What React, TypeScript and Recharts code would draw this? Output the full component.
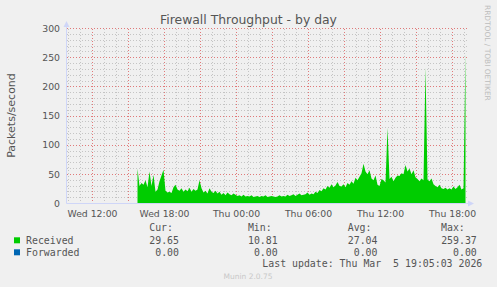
import React from 'react';
import { ComposedChart, Area, Line, XAxis, YAxis, ReferenceLine } from 'recharts';

// ---- data ----
const RECEIVED_COLOR = '#00CC00';
const FORWARDED_COLOR = '#0066B3';

// Received packets/second, one sample per 10 minutes from Wed 15:45 onward
const received = [
  60, 30, 35, 32, 40, 28, 55, 30, 49, 20,
  24, 38, 48, 58, 22, 19, 20, 18, 28, 32,
  24, 22, 26, 20, 24, 21, 27, 20, 25, 22,
  24, 40, 26, 19, 22, 17, 26, 20, 18, 22,
  17, 20, 15, 18, 14, 19, 16, 14, 17, 15,
  13, 14, 12, 15, 12, 13, 12, 14, 11, 12,
  13, 11, 13, 12, 14, 11, 12, 13, 12, 11,
  12, 14, 12, 13, 12, 15, 13, 14, 16, 13,
  15, 17, 14, 15, 16, 19, 15, 17, 16, 20,
  18, 23, 21, 26, 24, 30, 27, 33, 28, 31,
  37, 30, 29, 33, 28, 35, 32, 38, 34, 44,
  40, 46, 52, 68, 55, 50, 57, 43, 40, 48,
  32, 30, 42, 40, 36, 130, 42, 46, 38, 44,
  48, 47, 52, 50, 66, 55, 60, 50, 57, 45,
  42, 38, 43, 40, 233, 41, 38, 43, 33, 30,
  28, 32, 26, 25, 27, 24, 26, 24, 29, 25,
  28, 32, 24, 26, 259.37,
];
// Forwarded is 0.00 for every sample (cur/min/avg/max all 0.00)
const forwarded = received.map(() => 0);
// sample timestamps in hours since Wed 00:00
const sampleHours = received.map((_, i) => 15.75 + i / 6);

const xDomain = [9.8333, 43.1667];
const xTickHours = [12, 18, 24, 30, 36, 42];
const xTickLabels = ['Wed 12:00', 'Wed 18:00', 'Thu 00:00', 'Thu 06:00', 'Thu 12:00', 'Thu 18:00'];
const majorHours = [12, 15, 18, 21, 24, 27, 30, 33, 36, 39, 42];
const minorHours = [10, 11, 13, 14, 16, 17, 19, 20, 22, 23, 25, 26, 28, 29, 31, 32, 34, 35, 37, 38, 40, 41, 43];
const yTicks = [0, 50, 100, 150, 200, 250, 300];
const majorY = [50, 100, 150, 200, 250, 300];
const minorY = [10, 20, 30, 40, 60, 70, 80, 90, 110, 120, 130, 140, 160, 170, 180, 190, 210, 220, 230, 240, 260, 270, 280, 290];

const legendNames = ['Received', 'Forwarded'];
const legendColors = [RECEIVED_COLOR, FORWARDED_COLOR];
const curValues = ['29.65', '0.00'];
const minValues = ['10.81', '0.00'];
const avgValues = ['27.04', '0.00'];
const maxValues = ['259.37', '0.00'];

const TITLE = 'Firewall Throughput - by day';
const Y_LABEL = 'Packets/second';
const LAST_UPDATE = 'Last update: Thu Mar  5 19:05:03 2026';
const VERSION = 'Munin 2.0.75';
const SIDE = 'RRDTOOL / TOBI OETIKER';

const data = sampleHours.map((h, i) => ({ h, received: received[i], forwarded: forwarded[i] }));

const FONT = '"DejaVu Sans", sans-serif';
const MONO = '"DejaVu Sans Mono", monospace';
const TEXT = '#555555';
const AXIS = '#CFD6F8';
const MINOR = '#c4c4c4';
const MAJOR = '#e07a7a';

export default function App() {
  return (
    <div style={{ position: 'absolute', left: 0, top: 0, width: 497, height: 287, background: '#F0F0F0' }}>
      <ComposedChart
        width={497}
        height={287}
        data={data}
        margin={{ top: 28.5, right: 30.5, bottom: 63.5, left: 0 }}
        style={{ position: 'absolute', left: 0, top: 0 }}
      >
        <XAxis
          type="number"
          dataKey="h"
          domain={xDomain}
          allowDataOverflow
          ticks={xTickHours}
          interval={0}
          tickFormatter={(v) => xTickLabels[xTickHours.indexOf(v)]}
          height={20}
          axisLine={{ stroke: AXIS }}
          tickLine={false}
          tickSize={2}
          tickMargin={4.6}
          tick={{ fontSize: 9.3, fill: TEXT, fontFamily: FONT }}
        />
        <YAxis
          type="number"
          domain={[0, 300]}
          ticks={yTicks}
          interval={0}
          width={66.5}
          axisLine={{ stroke: AXIS }}
          tickLine={false}
          tickSize={2}
          tickMargin={4.5}
          tick={{ fontSize: 9.3, fill: TEXT, fontFamily: FONT }}
        />
        {minorHours.map((h) => (
          <ReferenceLine key={'mx' + h} x={h} zIndex={-50} stroke={MINOR} strokeWidth={1} strokeDasharray="1 2" shapeRendering="crispEdges" />
        ))}
        {minorY.map((v) => (
          <ReferenceLine key={'my' + v} y={v} zIndex={-50} stroke={MINOR} strokeWidth={1} strokeDasharray="1 2" shapeRendering="crispEdges" />
        ))}
        {majorHours.map((h) => (
          <ReferenceLine key={'Mx' + h} x={h} zIndex={-40} stroke={MAJOR} strokeWidth={1} strokeDasharray="1 2" shapeRendering="crispEdges" />
        ))}
        {majorY.map((v) => (
          <ReferenceLine key={'My' + v} y={v} zIndex={-40} stroke={MAJOR} strokeWidth={1} strokeDasharray="1 2" shapeRendering="crispEdges" />
        ))}
        <Area
          type="linear"
          dataKey="received"
          stroke="none"
          fill={RECEIVED_COLOR}
          fillOpacity={1}
          isAnimationActive={false}
          dot={false}
          activeDot={false}
        />
        <Line
          type="linear"
          dataKey="forwarded"
          stroke={FORWARDED_COLOR}
          strokeWidth={1}
          dot={false}
          activeDot={false}
          isAnimationActive={false}
        />
      </ComposedChart>
      <svg
        width={497}
        height={287}
        style={{ position: 'absolute', left: 0, top: 0, pointerEvents: 'none' }}
      >
        {/* axis arrows */}
        <line x1={66.5} y1={28.5} x2={66.5} y2={24} stroke={AXIS} />
        <polygon points="63.5,27 69.5,27 66.5,21" fill={AXIS} />
        <line x1={466.5} y1={203.5} x2={469} y2={203.5} stroke={AXIS} />
        <polygon points="468,200.5 468,206.5 474,203.5" fill={AXIS} />

        <text x={248.5} y={24} textAnchor="middle" fontFamily={FONT} fontSize={12.4} fill={TEXT}>
          {TITLE}
        </text>
        <text
          transform="translate(15,115.5) rotate(-90)"
          textAnchor="middle"
          fontFamily={FONT}
          fontSize={11}
          fill={TEXT}
        >
          {Y_LABEL}
        </text>
        <text
          transform="translate(485,5) rotate(90)"
          textAnchor="start"
          fontFamily={FONT}
          fontSize={7.45}
          fill="#bdbdbd"
        >
          {SIDE}
        </text>

        <g fontFamily={MONO} fontSize={9.9} fill={TEXT}>
          <text x={149.2} y={231}>Cur:</text>
          <text x={247.9} y={231}>Min:</text>
          <text x={347.7} y={231}>Avg:</text>
          <text x={441} y={231}>Max:</text>
          {legendNames.map((name, i) => {
            const y = 243.5 + i * 12;
            return (
              <g key={name}>
                <rect x={14} y={y - 6.2} width={6} height={6} fill={legendColors[i]} />
                <text x={26} y={y}>{name}</text>
                <text x={179} y={y} textAnchor="end">{curValues[i]}</text>
                <text x={277.7} y={y} textAnchor="end">{minValues[i]}</text>
                <text x={377.5} y={y} textAnchor="end">{avgValues[i]}</text>
                <text x={476.8} y={y} textAnchor="end">{maxValues[i]}</text>
              </g>
            );
          })}
          <text x={482.3} y={267} textAnchor="end" xmlSpace="preserve" style={{ whiteSpace: 'pre' }}>
            {LAST_UPDATE}
          </text>
        </g>
        <text x={248} y={279} textAnchor="middle" fontFamily={FONT} fontSize={7.5} fill="#c8c8c8">
          {VERSION}
        </text>
      </svg>
    </div>
  );
}
